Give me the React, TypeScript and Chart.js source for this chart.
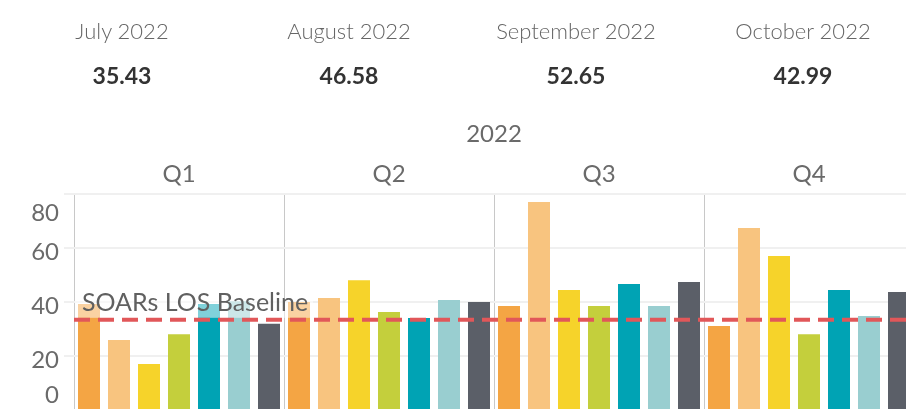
import React, { useEffect, useRef } from 'react';
import { Chart, registerables } from 'chart.js';

Chart.register(...registerables);

// ---- data ----
const quarters = ['Q1', 'Q2', 'Q3', 'Q4'];
const yearLabel = '2022';
const seriesNames = ['Group 1', 'Group 2', 'Group 3', 'Group 4', 'Group 5', 'Group 6', 'Group 7'];
const seriesColors = ['#F4A544', '#F8C47F', '#F6D32A', '#C4CF3C', '#00A3B4', '#99CED0', '#5B5F68'];
const series1 = [39.3, 40.0, 38.5, 31.1];
const series2 = [25.9, 41.5, 77.0, 67.4];
const series3 = [17.0, 48.1, 44.4, 57.0];
const series4 = [28.1, 36.3, 38.5, 28.1];
const series5 = [39.3, 34.1, 46.7, 44.4];
const series6 = [40.3, 40.7, 38.5, 34.8];
const series7 = [31.9, 40.0, 47.4, 43.7];
const yTicks = [0, 20, 40, 60, 80];
const baselineValue = 33.4;
const baselineLabel = 'SOARs LOS Baseline';
const kpiMonths = ['July 2022', 'August 2022', 'September 2022', 'October 2022'];
const kpiValues = ['35.43', '46.58', '52.65', '42.99'];

const allSeries = [series1, series2, series3, series4, series5, series6, series7];
const FONT = 'Lato, "Open Sans", sans-serif';

const yLabelsPlugin = {
  id: 'yLabels',
  afterDraw(chart: any) {
    const { ctx, chartArea, scales } = chart;
    const y = scales.y;
    ctx.save();
    ctx.font = `24px ${FONT}`;
    ctx.fillStyle = '#6a6a6a';
    ctx.textAlign = 'right';
    ctx.textBaseline = 'alphabetic';
    y.ticks.forEach((t: any) => {
      const py = y.getPixelForValue(t.value);
      const center = Math.min(Math.max(py + 3.5, chartArea.top + 18), chartArea.bottom - 16);
      ctx.fillText(String(t.value), 59, center + 8.6);
    });
    ctx.restore();
  },
};

const baselinePlugin = {
  id: 'baseline',
  afterDatasetsDraw(chart: any) {
    const { ctx, chartArea, scales } = chart;
    const py = scales.y.getPixelForValue(baselineValue);
    ctx.save();
    // label box
    ctx.fillStyle = 'rgba(255,255,255,0.5)';
    ctx.fillRect(chartArea.left + 1, py - 20, 238, 18);
    ctx.font = `25px ${FONT}`;
    ctx.fillStyle = '#606060';
    ctx.textAlign = 'left';
    ctx.textBaseline = 'alphabetic';
    ctx.fillText(baselineLabel, chartArea.left + 8, py - 8.5);
    // dashed line
    ctx.strokeStyle = '#E15759';
    ctx.lineWidth = 4;
    ctx.setLineDash([16, 8]);
    ctx.beginPath();
    ctx.moveTo(chartArea.left, py);
    ctx.lineTo(chartArea.right, py);
    ctx.stroke();
    ctx.restore();
  },
};

export default function App() {
  const ref = useRef<HTMLCanvasElement | null>(null);

  useEffect(() => {
    document.body.style.margin = '0';
    document.body.style.overflow = 'hidden';
    const canvas = ref.current!;
    Chart.defaults.font.family = FONT;
    const chart = new Chart(canvas, {
      type: 'bar',
      data: {
        labels: quarters,
        datasets: allSeries.map((d, i) => ({
          label: seriesNames[i],
          data: d,
          backgroundColor: seriesColors[i],
          categoryPercentage: 1,
          barPercentage: 22 / 30,
          borderWidth: 0,
        })),
      },
      options: {
        responsive: false,
        animation: false,
        devicePixelRatio: 1,
        layout: { padding: { top: 110, right: 6, bottom: 2, left: 0 } },
        plugins: {
          legend: { display: false },
          tooltip: { enabled: false },
        },
        scales: {
          x: {
            type: 'category',
            position: 'top',
            offset: true,
            grid: { offset: true, color: '#c8c8c8', lineWidth: 1, drawTicks: false },
            border: { display: false },
            ticks: {
              font: { size: 24 },
              color: '#6a6a6a',
              padding: 5.6,
              maxRotation: 0,
              autoSkip: false,
            },
            title: {
              display: true,
              text: yearLabel,
              font: { size: 24 },
              color: '#6a6a6a',
              padding: { top: 9.6, bottom: 0 },
            },
            afterFit: (s: any) => {
              s.height = 84;
            },
          },
          y: {
            min: 0,
            max: 80,
            grid: { color: '#f0f0f0', lineWidth: 2, drawTicks: true, tickLength: 10 },
            border: { display: false },
            ticks: { display: false },
            afterBuildTicks: (s: any) => {
              s.ticks = yTicks.map((v) => ({ value: v }));
            },
            afterFit: (s: any) => {
              s.width = 74;
            },
          },
        },
      },
      plugins: [yLabelsPlugin, baselinePlugin],
    } as any);
    return () => chart.destroy();
  }, []);

  const centers = [122, 349, 576, 803];

  return (
    <div>
      <canvas
        ref={ref}
        width={920}
        height={412}
        style={{ position: 'fixed', left: 0, top: 0, width: 920, height: 412 }}
      />
      {kpiMonths.map((m, i) => (
        <div
          key={'m' + i}
          style={{
            position: 'fixed',
            left: centers[i] - 110,
            width: 220,
            top: 20.2,
            textAlign: 'center',
            fontFamily: FONT,
            fontSize: 22,
            fontWeight: 300,
            lineHeight: '22px',
            color: '#666666',
            whiteSpace: 'nowrap',
          }}
        >
          {m}
        </div>
      ))}
      {kpiValues.map((v, i) => (
        <div
          key={'v' + i}
          style={{
            position: 'fixed',
            left: centers[i] - 110,
            width: 220,
            top: 63.6,
            textAlign: 'center',
            fontFamily: FONT,
            fontSize: 23,
            fontWeight: 700,
            lineHeight: '23px',
            color: '#333333',
            whiteSpace: 'nowrap',
          }}
        >
          {v}
        </div>
      ))}
    </div>
  );
}
